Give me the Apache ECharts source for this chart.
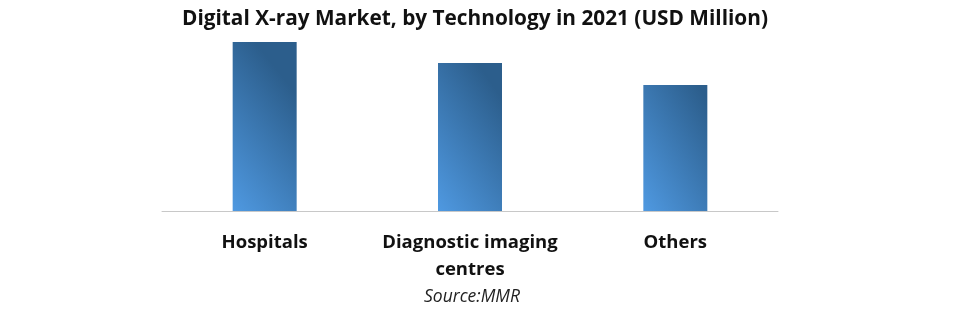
<!DOCTYPE html>
<html><head><meta charset="utf-8">
<script src="https://cdn.jsdelivr.net/npm/echarts@6/dist/echarts.min.js"></script>
<style>html,body{margin:0;padding:0;background:#fff}#c{width:961px;height:314px}</style>
</head><body><div id="c"></div>
<script>
const categories = ["Hospitals", "Diagnostic imaging\ncentres", "Others"];
const values = [169, 148, 126];
const titleText = "Digital X-ray Market, by Technology in 2021 (USD Million)";
const sourceText = "Source:MMR";

const chart = echarts.init(document.getElementById('c'));
chart.setOption({
  animation: false,
  title: {
    text: titleText, left: 177, top: 4,
    textStyle: {fontFamily: 'Open Sans', fontWeight: 'bold', fontSize: 20.8, color: '#111'}
  },
  grid: {left: 162, right: 183, top: 31, bottom: 103},
  xAxis: {
    type: 'category', data: categories,
    axisLine: {lineStyle: {color: '#c8c8c8', width: 1}},
    axisTick: {show: false},
    axisLabel: {interval: 0, margin: 18, fontFamily: 'Open Sans', fontWeight: 'bold', fontSize: 18.5, color: '#111', lineHeight: 27}
  },
  yAxis: {type: 'value', min: 0, max: 180, show: false, splitLine: {show: false}},
  series: [{
    type: 'bar', data: values, barWidth: 64,
    itemStyle: {color: new echarts.graphic.LinearGradient(0, 1, 1.5, 0.55, [
      {offset: 0, color: '#4f99e1'}, {offset: 1, color: '#2c5e8c'}
    ])}
  }],
  graphic: [{
    type: 'text', left: 424, top: 288,
    style: {text: sourceText, font: 'italic 17.5px "Open Sans"', fill: '#222'}
  }]
});
</script></body></html>
